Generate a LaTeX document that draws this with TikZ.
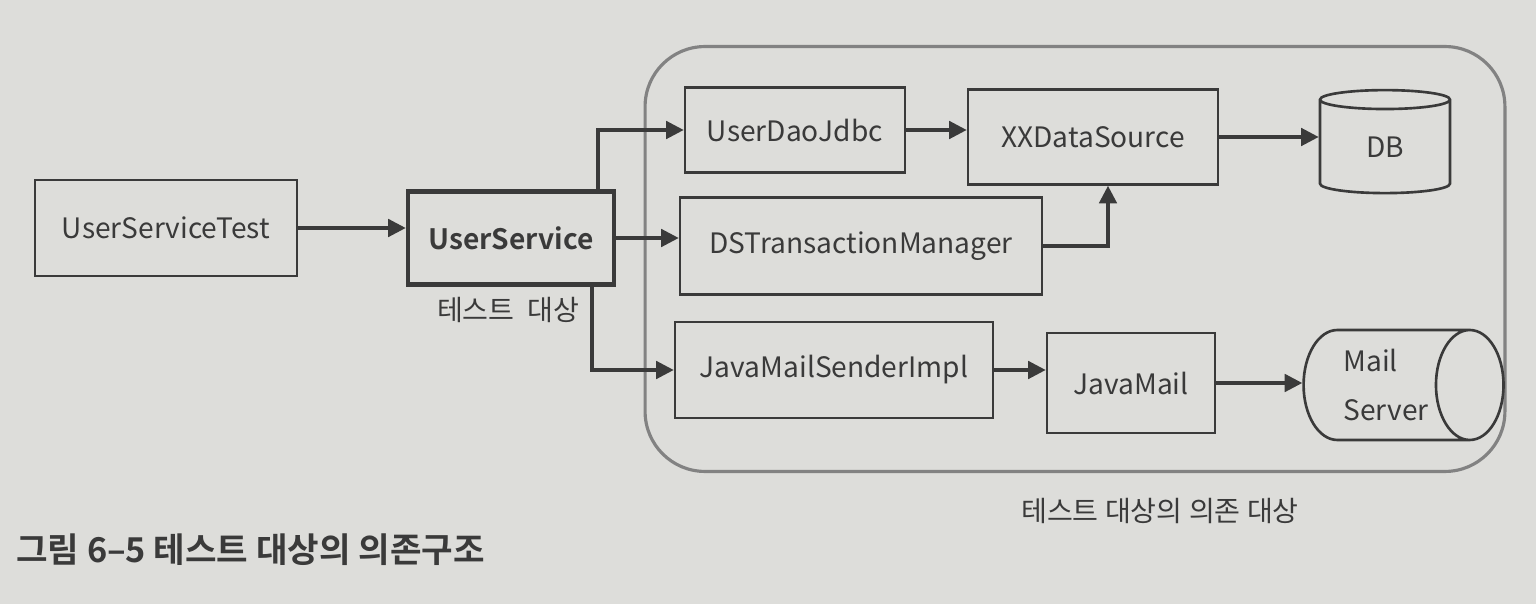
\documentclass[tikz,border=0pt]{standalone}
\usepackage{fontspec}
\setmainfont{Noto Sans CJK KR}[BoldFont={Noto Sans CJK KR Bold}]
\usetikzlibrary{shapes.geometric,arrows.meta}
\definecolor{paper}{RGB}{221,221,218}
\definecolor{ink}{RGB}{58,58,58}
\definecolor{frame}{RGB}{130,130,130}

\begin{document}
\begin{tikzpicture}[x=0.02cm,y=-0.02cm,
		font=\fontsize{16pt}{19pt}\selectfont,text=ink,
		box/.style={draw=ink,line width=1.5pt,fill=paper,inner sep=0pt},
		store/.style={draw=ink,line width=1.5pt,fill=paper,cylinder,inner sep=0pt},
		arr/.style={draw=ink,line width=1.8pt,-{Triangle[length=10pt,width=10pt]}}]
		\path[fill=paper] (0,0) rectangle (1536,604);
		% group of dependencies
		\node[draw=frame,line width=1.8pt,rounded corners=1.2cm,minimum width=17.2cm,minimum height=8.5cm] (deps) at (1075,259) {};
		\node[anchor=north] (depslabel) at (1160,492) {테스트 대상의 의존 대상};
		% test and target
		\node[box,minimum width=5.24cm,minimum height=1.92cm] (test) at (166,228) {UserServiceTest};
		\node[box,line width=2.6pt,minimum width=4.12cm,minimum height=1.86cm,font=\fontsize{16pt}{19pt}\selectfont\bfseries] (service) at (511,238) {UserService};
		\node[anchor=north] (servicelabel) at (508,291) {테스트\ \ 대상};
		% dependencies
		\node[box,minimum width=4.4cm,minimum height=1.7cm] (dao) at (795,130) {UserDaoJdbc};
		\node[box,minimum width=5cm,minimum height=1.9cm] (ds) at (1093,137) {XXDataSource};
		\node[box,minimum width=7.24cm,minimum height=1.94cm] (tx) at (861,246) {DSTransactionManager};
		\node[box,minimum width=6.36cm,minimum height=1.92cm] (sender) at (834,370) {JavaMailSenderImpl};
		\node[box,minimum width=3.36cm,minimum height=2cm] (mail) at (1131,383) {JavaMail};
		\node[store,shape border rotate=90,aspect=0.5,minimum width=2.6cm,minimum height=2.06cm] (db) at (1385,147) {DB};
		\node[store,aspect=0.95,minimum width=2.2cm,minimum height=4cm,align=left] (mailsrv) at (1386,385) {Mail\\[0.3cm]Server};
		% connectors
		\coordinate (topfork) at (598,192);
		\coordinate (lowfork) at (592,285);
		\draw[arr] (test.east) -- (test.east -| service.west);
		\draw[arr] (topfork) |- (dao.west);
		\draw[arr] (service.east) -- (service.east -| tx.west);
		\draw[arr] (lowfork) |- (sender.west);
		\draw[arr] (dao.east) -- (dao.east -| ds.west);
		\draw[arr] (ds.east) -- (ds.east -| db.west);
		\draw[arr] (tx.east) -| ([xshift=0.3cm]ds.south);
		\draw[arr] (sender.east) -- (sender.east -| mail.west);
		\draw[arr] (mail.east) -- (mail.east -| mailsrv.west);
		% caption
		\node[anchor=west,font=\fontsize{19.5pt}{23pt}\selectfont\bfseries] (caption) at (10,550) {그림 6–5 테스트 대상의 의존구조};
		\end{tikzpicture}
\end{document}
